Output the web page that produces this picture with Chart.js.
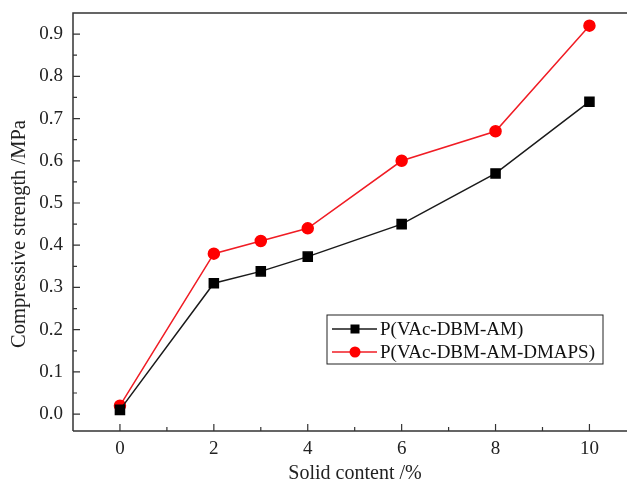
<!DOCTYPE html>
<html>
<head>
<meta charset="utf-8">
<script src="https://cdn.jsdelivr.net/npm/chart.js@4"></script>
<style>
  html, body { margin: 0; padding: 0; background: #fff; }
  #wrap { width: 627px; height: 491px; position: relative; }
</style>
</head>
<body>
<div id="wrap"><canvas id="chart"></canvas></div>
<script>
// data
const solidContent = [0, 2, 3, 4, 6, 8, 10];
const strengthAM = [0.01, 0.31, 0.338, 0.373, 0.45, 0.57, 0.74];
const strengthDMAPS = [0.02, 0.38, 0.41, 0.44, 0.60, 0.67, 0.92];
const seriesNames = ['P(VAc-DBM-AM)', 'P(VAc-DBM-AM-DMAPS)'];
const xTicks = [0, 2, 4, 6, 8, 10];
const yTicks = [0.0, 0.1, 0.2, 0.3, 0.4, 0.5, 0.6, 0.7, 0.8, 0.9];
const xTitle = 'Solid content /%';
const yTitle = 'Compressive strength /MPa';

const FONT = "'Liberation Serif', 'DejaVu Serif', serif";
const axisColor = '#333';

function toPoints(xs, ys) {
    return xs.map((x, i) => ({ x: x, y: ys[i] }));
}

// frame, inward ticks, axis titles and the boxed legend
const decorations = {
    id: 'decorations',
    afterDraw(chart) {
        const ctx = chart.ctx;
        const a = chart.chartArea;
        const xs = chart.scales.x, ys = chart.scales.y;
        ctx.save();
        ctx.strokeStyle = axisColor;
        ctx.lineWidth = 1.5;
        ctx.beginPath();
        ctx.moveTo(a.left, a.bottom);
        ctx.lineTo(a.left, a.top);
        ctx.lineTo(chart.width, a.top);
        ctx.moveTo(a.left, a.bottom);
        ctx.lineTo(chart.width, a.bottom);
        ctx.stroke();

        ctx.lineWidth = 1.2;
        ctx.beginPath();
        // x major + minor ticks
        for (let v = 0; v <= 10; v++) {
            const px = xs.getPixelForValue(v);
            const len = v % 2 === 0 ? 7 : 4;
            ctx.moveTo(px, a.bottom);
            ctx.lineTo(px, a.bottom - len);
        }
        // y major + minor ticks
        for (let k = 0; k <= 18; k++) {
            const py = ys.getPixelForValue(k * 0.05);
            const len = k % 2 === 0 ? 7 : 4;
            ctx.moveTo(a.left, py);
            ctx.lineTo(a.left + len, py);
        }
        ctx.stroke();

        // axis titles
        ctx.fillStyle = '#222';
        ctx.textAlign = 'center';
        ctx.textBaseline = 'middle';
        ctx.font = '20px ' + FONT;
        ctx.fillText(xTitle, 355, 474);
        ctx.save();
        ctx.translate(20, 234);
        ctx.rotate(-Math.PI / 2);
        ctx.font = '20.5px ' + FONT;
        ctx.fillText(yTitle, 0, 0);
        ctx.restore();

        // legend
        const bx = 327, by = 315, bw = 276, bh = 49;
        ctx.textAlign = 'left';
        ctx.lineWidth = 1;
        ctx.strokeStyle = '#222';
        ctx.strokeRect(bx, by, bw, bh);
        ctx.font = '19px ' + FONT;
        chart.data.datasets.forEach((ds, i) => {
            const cy = by + 14 + i * 23;
            ctx.strokeStyle = ds.borderColor;
            ctx.lineWidth = 1.5;
            ctx.beginPath();
            ctx.moveTo(bx + 5, cy);
            ctx.lineTo(bx + 50, cy);
            ctx.stroke();
            ctx.fillStyle = ds.pointBackgroundColor;
            if (ds.pointStyle === 'rect') {
                ctx.fillRect(bx + 23.5, cy - 4.5, 9, 9);
            } else {
                ctx.beginPath();
                ctx.arc(bx + 28, cy, 5.5, 0, Math.PI * 2);
                ctx.fill();
            }
            ctx.fillStyle = '#111';
            ctx.fillText(ds.label, bx + 53, cy + 1);
        });
        ctx.restore();
    }
};

new Chart(document.getElementById('chart'), {
    type: 'line',
    data: {
        datasets: [{
            label: seriesNames[0],
            data: toPoints(solidContent, strengthAM),
            borderColor: '#1a1a1a',
            backgroundColor: '#000',
            pointBackgroundColor: '#000',
            pointBorderColor: '#000',
            pointStyle: 'rect',
            pointRadius: 6.4,
            borderWidth: 1.5,
            tension: 0
        }, {
            label: seriesNames[1],
            data: toPoints(solidContent, strengthDMAPS),
            borderColor: '#f01c24',
            backgroundColor: '#ff0000',
            pointBackgroundColor: '#ff0000',
            pointBorderColor: '#ff0000',
            pointStyle: 'circle',
            pointRadius: 5.5,
            borderWidth: 1.5,
            tension: 0
        }]
    },
    options: {
        responsive: true,
        maintainAspectRatio: false,
        animation: false,
        layout: { autoPadding: false, padding: { top: 13, right: 0, left: 0, bottom: 0 } },
        plugins: {
            legend: { display: false },
            tooltip: { enabled: false }
        },
        scales: {
            x: {
                type: 'linear',
                min: -1,
                max: 10.8,
                grid: { display: false, drawTicks: false },
                border: { display: false },
                afterBuildTicks(s) { s.ticks = xTicks.map(v => ({ value: v })); },
                afterFit(s) { s.height = 60; s.paddingLeft = 0; s.paddingRight = 0; },
                ticks: {
                    color: '#222',
                    padding: 7,
                    font: { family: FONT, size: 19 },
                    callback: v => String(v)
                },
                title: { display: false }
            },
            y: {
                min: -0.04,
                max: 0.95,
                grid: { display: false, drawTicks: false },
                border: { display: false },
                afterBuildTicks(s) { s.ticks = yTicks.map(v => ({ value: v })); },
                afterFit(s) { s.width = 73; s.paddingTop = 0; s.paddingBottom = 0; },
                ticks: {
                    color: '#222',
                    padding: 10,
                    font: { family: FONT, size: 19 },
                    callback: v => v.toFixed(1)
                },
                title: { display: false }
            }
        }
    },
    plugins: [decorations]
});
</script>
</body>
</html>
